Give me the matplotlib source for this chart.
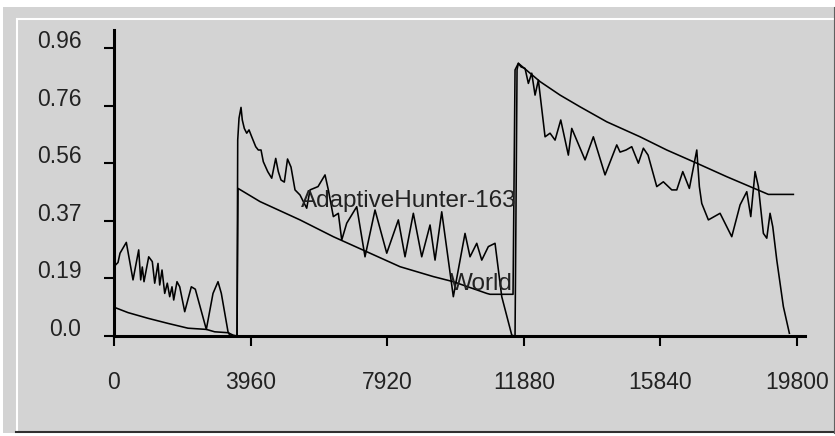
import matplotlib.pyplot as plt
from matplotlib.lines import Line2D
from matplotlib.patches import Rectangle

# score traces for the three rounds
hunter_x = [0, 30, 116, 174, 357, 551, 716, 774, 820, 870, 1006, 1110, 1180, 1276, 1325,
            1392, 1470, 1545, 1615, 1681, 1731, 1826, 1905, 2050, 2241, 2357, 2676, 2870,
            3015, 3111, 3305, 3354, 3450, 3566, 3586, 3624, 3682, 3719, 3777, 3847, 3914,
            3992, 4108, 4183, 4262, 4328, 4456, 4572, 4688, 4763, 4841, 4937, 5030, 5131,
            5247, 5392, 5586, 5682, 5914, 6117, 6213, 6358, 6503, 6601, 6746, 7036, 7276,
            7566, 7906, 8242, 8436, 8677, 8920, 9161, 9306, 9500, 9836, 10175, 10320,
            10515, 10660, 10851, 11045, 11095, 11240, 11530, 11600, 11625, 11683, 11721,
            11799, 11915, 12011, 12109, 12205, 12301, 12495, 12640, 12785, 12950, 13170,
            13269, 13654, 13895, 14234, 14573, 14669, 14843, 15008, 15200, 15345, 15481,
            15733, 15924, 16168, 16313, 16487, 16678, 16893, 16968, 17037, 17229, 17568,
            17907, 18148, 18342, 18458, 18583, 18679, 18824, 18922, 19017, 19096, 19212,
            19403, 19577]
hunter_y = [0.18, 0.235, 0.245, 0.276, 0.312, 0.187, 0.287, 0.187, 0.23, 0.181, 0.264,
            0.248, 0.176, 0.242, 0.17, 0.22, 0.142, 0.176, 0.131, 0.164, 0.12, 0.181,
            0.164, 0.081, 0.164, 0.156, 0.022, 0.142, 0.181, 0.142, 0.014, 0.003, 0.0,
            0.0, 0.653, 0.726, 0.762, 0.72, 0.692, 0.676, 0.687, 0.664, 0.631, 0.62, 0.62,
            0.581, 0.548, 0.526, 0.592, 0.548, 0.52, 0.513, 0.59, 0.563, 0.487, 0.47,
            0.426, 0.487, 0.498, 0.537, 0.487, 0.398, 0.409, 0.32, 0.376, 0.431, 0.264,
            0.42, 0.276, 0.387, 0.264, 0.409, 0.264, 0.37, 0.253, 0.414, 0.131, 0.342,
            0.264, 0.309, 0.253, 0.298, 0.309, 0.264, 0.131, 0.003, 0.0, 0.0, 0.887,
            0.909, 0.897, 0.892, 0.842, 0.876, 0.803, 0.853, 0.664, 0.676, 0.653, 0.72,
            0.603, 0.692, 0.587, 0.664, 0.537, 0.637, 0.613, 0.62, 0.631, 0.576, 0.626,
            0.603, 0.498, 0.514, 0.487, 0.487, 0.548, 0.492, 0.62, 0.498, 0.442, 0.387,
            0.409, 0.331, 0.437, 0.481, 0.398, 0.548, 0.498, 0.342, 0.326, 0.409, 0.364,
            0.253, 0.098, 0.009]

world_x = [0, 406, 986, 1565, 2145, 2676, 2919, 3305, 3450, 3566, 3595, 4233, 5392, 6358,
           7325, 8291, 9257, 9836, 10805, 10900, 11567, 11625, 11721, 12350, 12930, 13509,
           14283, 15249, 16023, 16893, 17762, 18437, 18968, 19693]
world_y = [0.096, 0.078, 0.059, 0.042, 0.026, 0.022, 0.014, 0.011, 0.003, 0.0, 0.492,
           0.448, 0.387, 0.331, 0.281, 0.231, 0.198, 0.181, 0.142, 0.139, 0.139, 0.887,
           0.909, 0.848, 0.803, 0.764, 0.714, 0.664, 0.62, 0.576, 0.531, 0.498, 0.472,
           0.472]

x_ticks = [0, 3960, 7920, 11880, 15840, 19800]
y_ticks = [0, 0.192, 0.384, 0.576, 0.768, 0.96]
y_tick_labels = ['0.0', '0.19', '0.37', '0.56', '0.76', '0.96']
names = ['AdaptiveHunter-163', 'World']

plt.rcParams['font.family'] = ['Liberation Sans', 'DejaVu Sans']

W, H = 835, 436
panel = '#d3d3d3'
fig = plt.figure(figsize=(W / 100, H / 100), dpi=100, facecolor='white')


def fx(px):
    return px / W


def fy(py):
    return 1 - py / H


# panel with a bevelled frame, kept behind the axes
frame = dict(transform=fig.transFigure, zorder=-10)
fig.add_artist(Rectangle((fx(3), fy(433)), fx(831), 426 / H,
                         facecolor=panel, edgecolor='none', **frame))
fig.add_artist(Line2D([fx(16.5), fx(16.5)], [fy(431), fy(19.5)], color='white', lw=1.5, **frame))
fig.add_artist(Line2D([fx(16.5), fx(833)], [fy(19.5), fy(19.5)], color='white', lw=1.5, **frame))
fig.add_artist(Line2D([fx(16), fx(834)], [fy(432), fy(432)], color='#303030', lw=1.5, **frame))
fig.add_artist(Line2D([fx(833.5), fx(833.5)], [fy(7), fy(433)], color='#606060', lw=0.8, **frame))

ax = fig.add_axes([114 / W, 100 / H, 691 / W, 306 / H])
ax.set_facecolor(panel)
ax.plot(hunter_x, hunter_y, color='black', lw=1.15)
ax.plot(world_x, world_y, color='black', lw=1.15)

ax.set_xlim(0, 20030)
ax.set_ylim(0, 1.02)
for side in ['top', 'right']:
    ax.spines[side].set_visible(False)
for side in ['left', 'bottom']:
    ax.spines[side].set_linewidth(2.2)
    ax.spines[side].set_color('black')

ax.set_xticks(x_ticks)
ax.set_xticklabels([str(t) for t in x_ticks])
ax.set_yticks(y_ticks)
ax.set_yticklabels(y_tick_labels)
ax.tick_params(direction='out', length=7.5, width=1.5, color='black',
               labelsize=16.5, labelcolor='#222222')
ax.tick_params(axis='x', pad=18)
ax.tick_params(axis='y', pad=16)
for lbl in ax.get_yticklabels():
    lbl.set_verticalalignment('baseline')

ax.text(11660, 0.43, names[0], ha='right', va='baseline', fontsize=17.5, color='#222222')
ax.text(11570, 0.153, names[1], ha='right', va='baseline', fontsize=17.5, color='#222222')

fig.savefig('out.png', dpi=100)
